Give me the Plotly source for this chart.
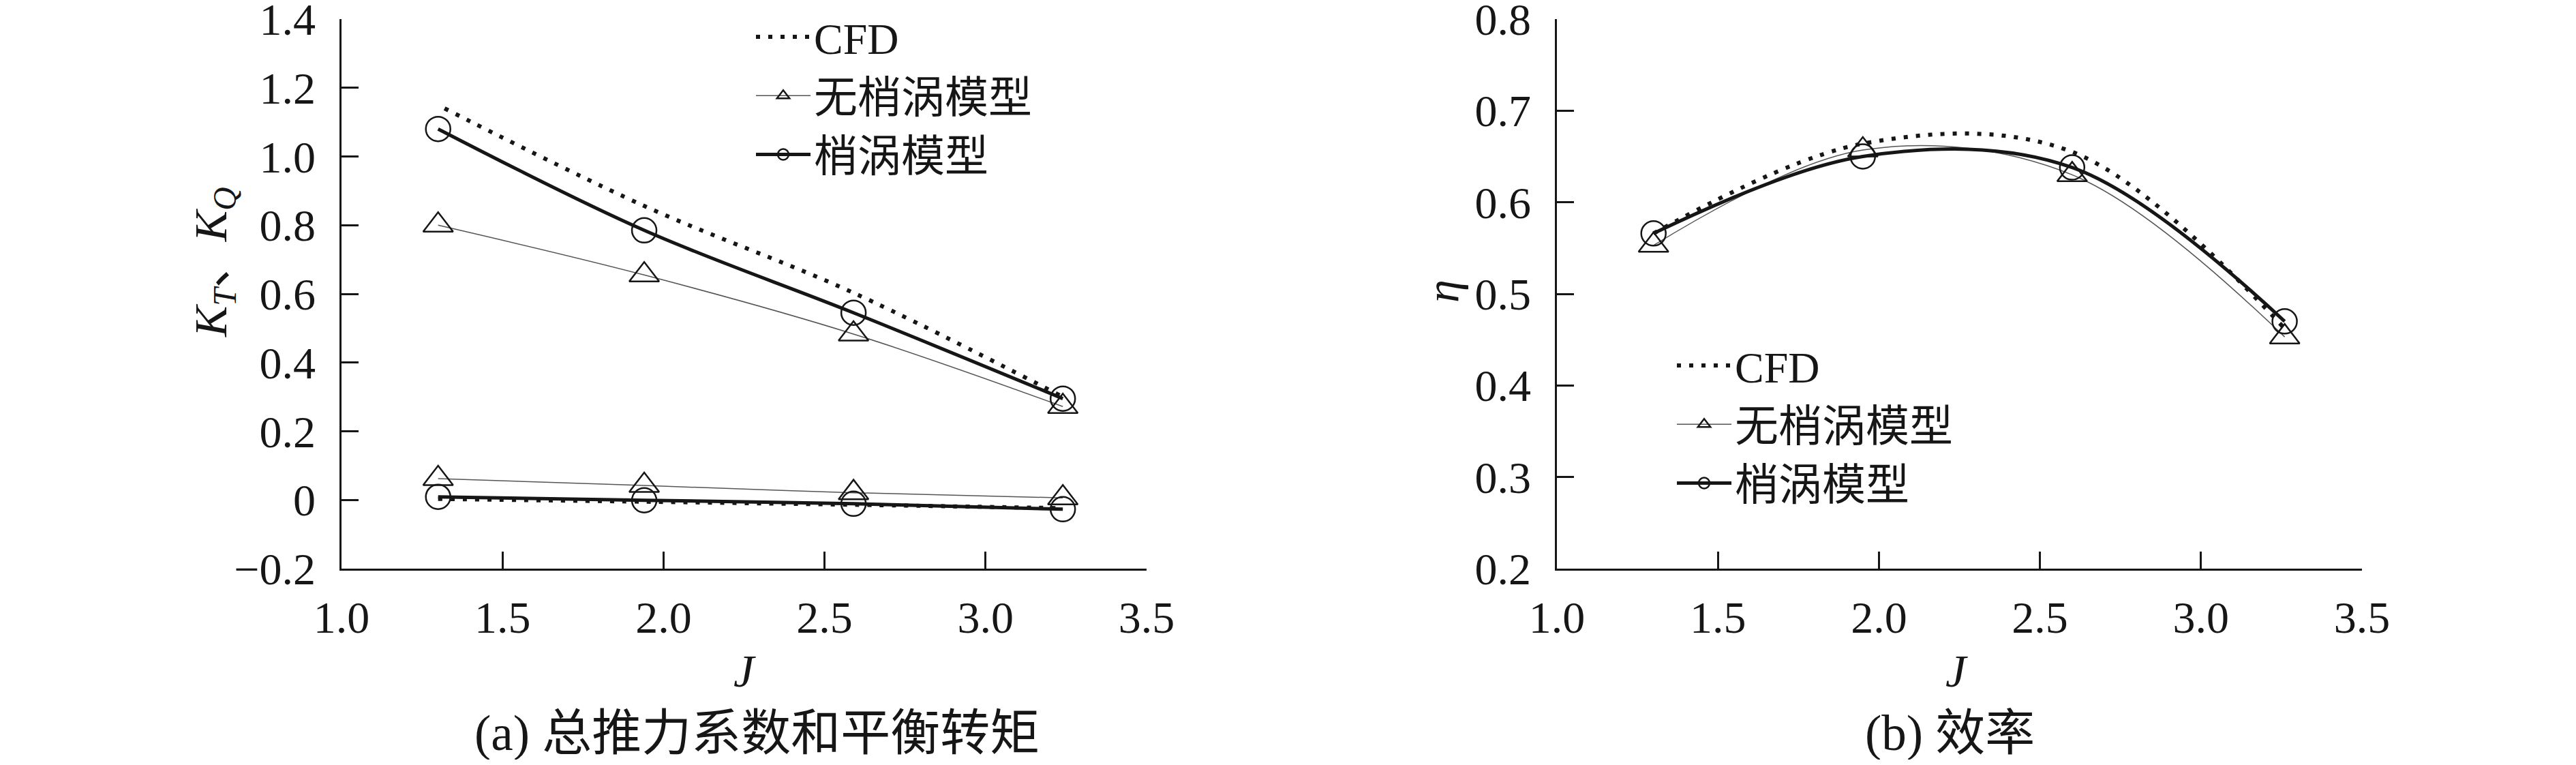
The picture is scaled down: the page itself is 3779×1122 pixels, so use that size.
import plotly.graph_objects as go

W, H = 3779, 1122
BODY = 8  # default page margin around the plot div
FW, FH = W - 2 * BODY, H - 2 * BODY

# (a) total thrust coefficient and balance torque
J_a = [1.30, 1.94, 2.59, 3.24]
J_a_cfd = [1.32, 1.94, 2.59, 3.24]
kt_cfd = [1.14, 0.856, 0.603, 0.30]
kt_no_tip = [0.80, 0.655, 0.483, 0.272]
kt_tip = [1.08, 0.785, 0.545, 0.295]
kq_cfd = [0.003, -0.005, -0.014, -0.024]
kq_no_tip = [0.062, 0.042, 0.021, 0.006]
kq_tip = [0.009, -0.001, -0.011, -0.027]

# (b) efficiency
J_b = [1.30, 1.95, 2.60, 3.26]
eta_cfd = [0.566, 0.664, 0.655, 0.462]
eta_no_tip = [0.553, 0.657, 0.630, 0.453]
eta_tip = [0.566, 0.650, 0.638, 0.470]

names = ["CFD", "无梢涡模型", "梢涡模型"]
x_ticks = [1.0, 1.5, 2.0, 2.5, 3.0, 3.5]
ya_ticks = [-0.2, 0, 0.2, 0.4, 0.6, 0.8, 1.0, 1.2, 1.4]
ya_text = ["\u22120.2", "0", "0.2", "0.4", "0.6", "0.8", "1.0", "1.2", "1.4"]
yb_ticks = [0.2, 0.3, 0.4, 0.5, 0.6, 0.7, 0.8]

FONT = "Liberation Serif, Times New Roman, Noto Sans CJK SC, serif"
INK = "#161616"


def px_x(p):
    return (p - BODY) / FW


def px_y(p):
    return 1 - (p - BODY) / FH


def style(kind):
    if kind == 0:
        return dict(mode="lines",
                    line=dict(color=INK, width=6, dash="6px,12px", shape="spline"))
    if kind == 1:
        return dict(mode="lines+markers",
                    line=dict(color="#555555", width=1.5, shape="spline"),
                    marker=dict(symbol="triangle-up-open", size=38, color=INK,
                                line=dict(width=2.5)))
    return dict(mode="lines+markers",
                line=dict(color=INK, width=5, shape="spline"),
                marker=dict(symbol="circle-open", size=36, color=INK,
                            line=dict(width=2.5)))


fig = go.Figure()

# panel (a): K_T curves carry the legend, K_Q curves reuse the styles
for k, (xs, ys) in enumerate([(J_a_cfd, kt_cfd), (J_a, kt_no_tip), (J_a, kt_tip)]):
    fig.add_trace(go.Scatter(x=xs, y=ys, name=names[k], legend="legend",
                             xaxis="x", yaxis="y", **style(k)))
for k, (xs, ys) in enumerate([(J_a, kq_cfd), (J_a, kq_no_tip), (J_a, kq_tip)]):
    fig.add_trace(go.Scatter(x=xs, y=ys, name=names[k], showlegend=False,
                             xaxis="x", yaxis="y", **style(k)))

# panel (b)
for k, ys in enumerate([eta_cfd, eta_no_tip, eta_tip]):
    fig.add_trace(go.Scatter(x=J_b, y=ys, name=names[k], legend="legend2",
                             xaxis="x2", yaxis="y2", **style(k)))

axis_common = dict(showline=True, linecolor=INK, linewidth=2.5, mirror=False,
                   ticks="inside", ticklen=25, tickwidth=2.5, tickcolor=INK,
                   showgrid=False, zeroline=False, automargin=False,
                   ticklabeloverflow="allow",
                   tickfont=dict(family=FONT, size=66, color=INK))

eps = 1e-6
ydom = [px_y(834), px_y(28)]
legend_common = dict(xanchor="left", yanchor="top", bgcolor="rgba(0,0,0,0)",
                     font=dict(family=FONT, size=64, color=INK),
                     itemsizing="trace", itemwidth=80, tracegroupgap=0)
fig.update_layout(
    width=FW, height=FH,
    margin=dict(l=0, r=0, t=0, b=0, pad=0, autoexpand=False),
    paper_bgcolor="white", plot_bgcolor="white",
    showlegend=True,
    xaxis=dict(domain=[px_x(501), px_x(1682)], range=[1.0 - eps, 3.5 + eps],
               tickvals=x_ticks, tickformat=".1f", anchor="y",
               ticklabelstandoff=12, **axis_common),
    yaxis=dict(domain=ydom, range=[-0.2 - eps, 1.4 + eps], tickvals=ya_ticks,
               ticktext=ya_text, anchor="x", ticklabelstandoff=22, **axis_common),
    xaxis2=dict(domain=[px_x(2284), px_x(3465)], range=[1.0 - eps, 3.5 + eps],
                tickvals=x_ticks, tickformat=".1f", anchor="y2",
                ticklabelstandoff=12, **axis_common),
    yaxis2=dict(domain=ydom, range=[0.2 - eps, 0.8 + eps], tickvals=yb_ticks,
                tickformat=".1f", anchor="x2", ticklabelstandoff=22, **axis_common),
    legend=dict(x=px_x(1104), y=px_y(6), **legend_common),
    legend2=dict(x=px_x(2455), y=px_y(488), **legend_common),
)

ann_font = dict(family=FONT, size=68, color=INK)
centered = dict(xref="paper", yref="paper", xanchor="center", yanchor="middle",
                showarrow=False)
fig.add_annotation(text="<i>K</i><sub><i>T</i></sub>、<i>K</i><sub><i>Q</i></sub>",
                   x=px_x(313), y=px_y(385), textangle=-90, font=ann_font, **centered)
fig.add_annotation(text="<i>η</i>", x=px_x(2117), y=px_y(427), textangle=-90,
                   font=ann_font, **centered)
for cx in (1092, 2870):
    fig.add_annotation(text="<i>J</i>", x=px_x(cx), y=px_y(984), font=ann_font,
                       **centered)

cap_font = dict(family=FONT, size=73, color=INK)
fig.add_annotation(text="(a) 总推力系数和平衡转矩", x=px_x(1110), y=px_y(1075),
                   font=cap_font, **centered)
fig.add_annotation(text="(b) 效率", x=px_x(2860), y=px_y(1075),
                   font=cap_font, **centered)

fig.write_html("out.html")
